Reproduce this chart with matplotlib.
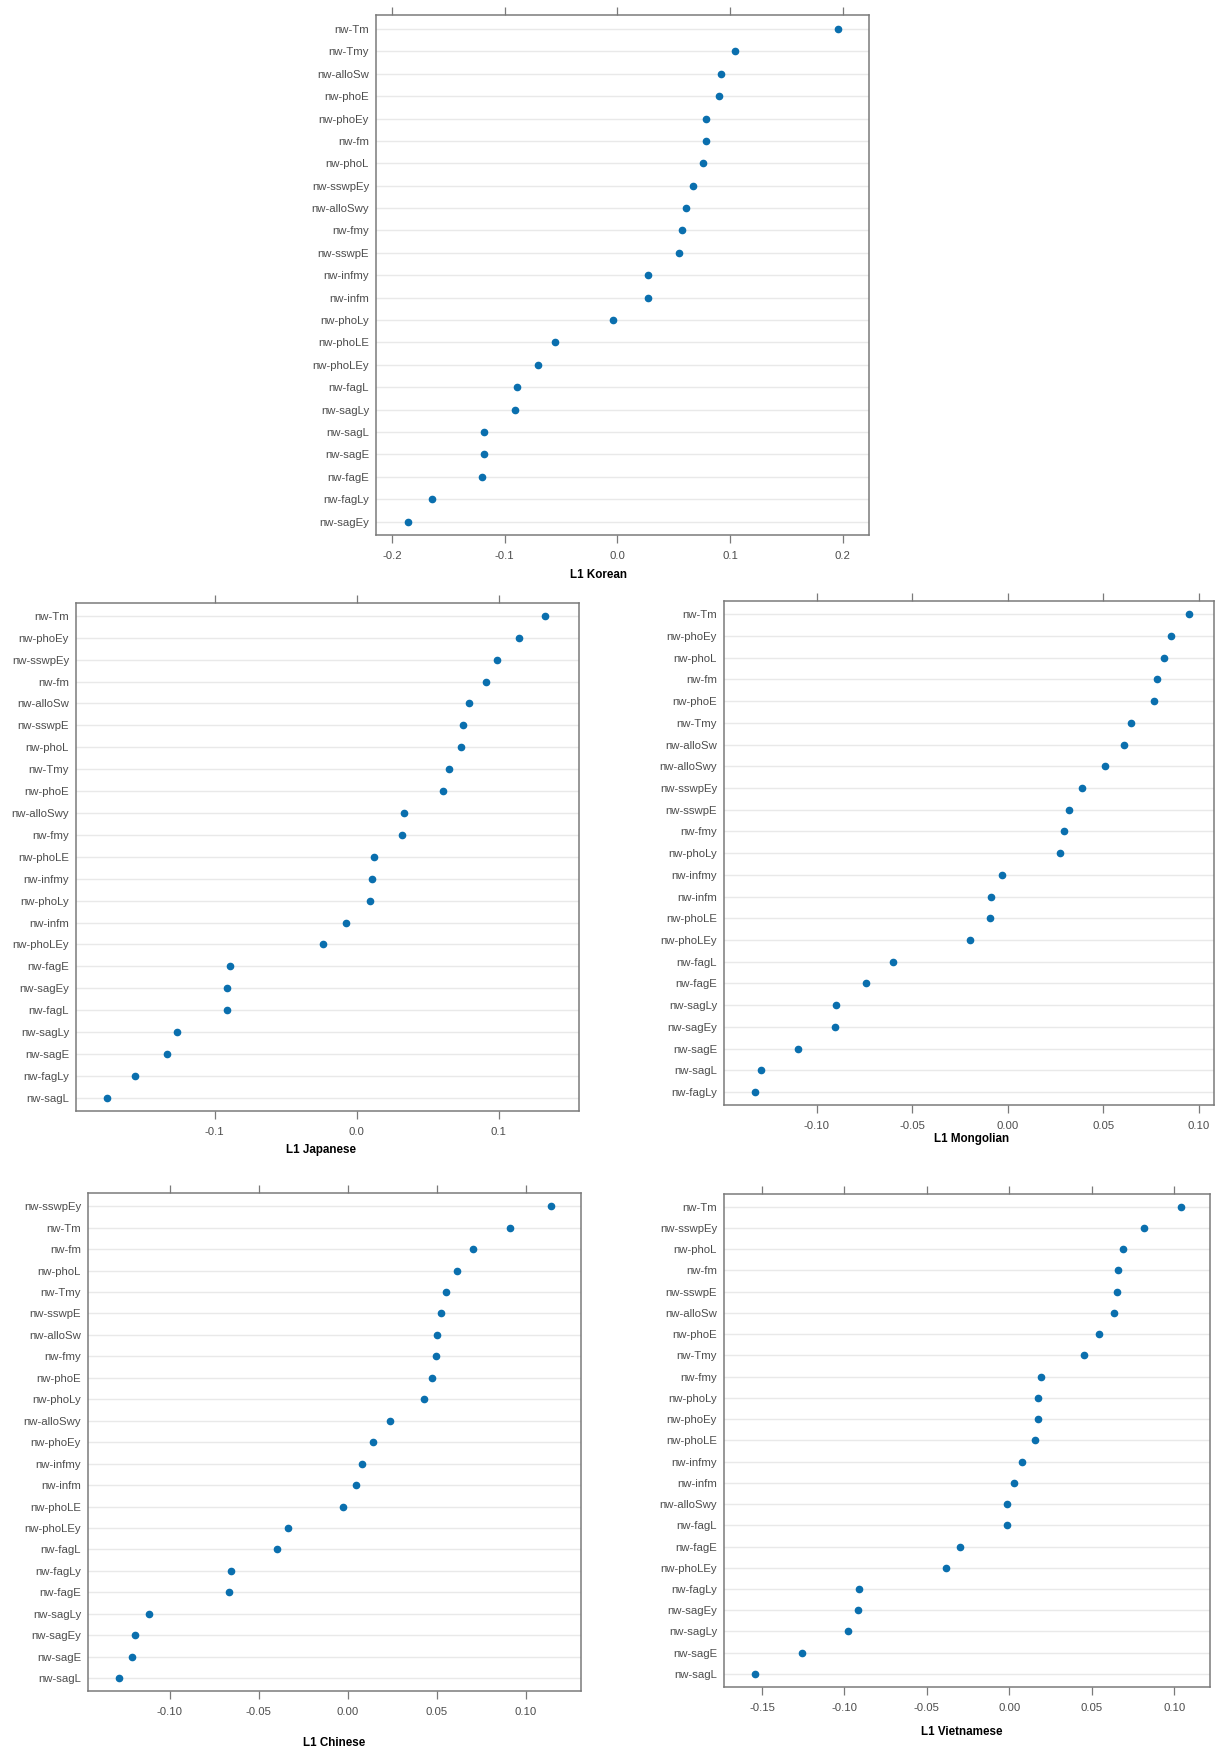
import matplotlib
matplotlib.use("Agg")
import matplotlib.pyplot as plt

plt.rcParams["font.family"] = ["Liberation Sans", "DejaVu Sans"]
plt.rcParams["axes.unicode_minus"] = False

# ---- data: one dot per predictor, ordered top to bottom ----
korean_labels = ["nw-Tm", "nw-Tmy", "nw-alloSw", "nw-phoE", "nw-phoEy", "nw-fm", "nw-phoL",
                 "nw-sswpEy", "nw-alloSwy", "nw-fmy", "nw-sswpE", "nw-infmy", "nw-infm",
                 "nw-phoLy", "nw-phoLE", "nw-phoLEy", "nw-fagL", "nw-sagLy", "nw-sagL",
                 "nw-sagE", "nw-fagE", "nw-fagLy", "nw-sagEy"]
korean_values = [0.1953, 0.1040, 0.0917, 0.0898, 0.0789, 0.0782, 0.0762, 0.0673, 0.0604,
                 0.0571, 0.0548, 0.0267, 0.0267, -0.0043, -0.0555, -0.0707, -0.0891,
                 -0.0911, -0.1182, -0.1188, -0.1202, -0.1647, -0.1855]

japanese_labels = ["nw-Tm", "nw-phoEy", "nw-sswpEy", "nw-fm", "nw-alloSw", "nw-sswpE", "nw-phoL",
                   "nw-Tmy", "nw-phoE", "nw-alloSwy", "nw-fmy", "nw-phoLE", "nw-infmy",
                   "nw-phoLy", "nw-infm", "nw-phoLEy", "nw-fagE", "nw-sagEy", "nw-fagL",
                   "nw-sagLy", "nw-sagE", "nw-fagLy", "nw-sagL"]
japanese_values = [0.1327, 0.1145, 0.0987, 0.0909, 0.0791, 0.0748, 0.0735, 0.0654, 0.0609,
                   0.0335, 0.0319, 0.0123, 0.0107, 0.0097, -0.0075, -0.0239, -0.0890,
                   -0.0912, -0.0912, -0.1266, -0.1338, -0.1558, -0.1756]

mongolian_labels = ["nw-Tm", "nw-phoEy", "nw-phoL", "nw-fm", "nw-phoE", "nw-Tmy", "nw-alloSw",
                    "nw-alloSwy", "nw-sswpEy", "nw-sswpE", "nw-fmy", "nw-phoLy", "nw-infmy",
                    "nw-infm", "nw-phoLE", "nw-phoLEy", "nw-fagL", "nw-fagE", "nw-sagLy",
                    "nw-sagEy", "nw-sagE", "nw-sagL", "nw-fagLy"]
mongolian_values = [0.0947, 0.0851, 0.0818, 0.0778, 0.0763, 0.0643, 0.0606, 0.0508, 0.0386,
                    0.0320, 0.0294, 0.0271, -0.0033, -0.0088, -0.0092, -0.0198, -0.0602,
                    -0.0741, -0.0898, -0.0902, -0.1098, -0.1290, -0.1324]

chinese_labels = ["nw-sswpEy", "nw-Tm", "nw-fm", "nw-phoL", "nw-Tmy", "nw-sswpE", "nw-alloSw",
                  "nw-fmy", "nw-phoE", "nw-phoLy", "nw-alloSwy", "nw-phoEy", "nw-infmy",
                  "nw-infm", "nw-phoLE", "nw-phoLEy", "nw-fagL", "nw-fagLy", "nw-fagE",
                  "nw-sagLy", "nw-sagEy", "nw-sagE", "nw-sagL"]
chinese_values = [0.1144, 0.0910, 0.0705, 0.0616, 0.0551, 0.0523, 0.0501, 0.0493, 0.0474,
                  0.0428, 0.0236, 0.0143, 0.0082, 0.0045, -0.0028, -0.0335, -0.0398,
                  -0.0657, -0.0668, -0.1116, -0.1196, -0.1213, -0.1286]

vietnamese_labels = ["nw-Tm", "nw-sswpEy", "nw-phoL", "nw-fm", "nw-sswpE", "nw-alloSw", "nw-phoE",
                     "nw-Tmy", "nw-fmy", "nw-phoLy", "nw-phoEy", "nw-phoLE", "nw-infmy",
                     "nw-infm", "nw-alloSwy", "nw-fagL", "nw-fagE", "nw-phoLEy", "nw-fagLy",
                     "nw-sagEy", "nw-sagLy", "nw-sagE", "nw-sagL"]
vietnamese_values = [0.1041, 0.0814, 0.0688, 0.0661, 0.0652, 0.0636, 0.0542, 0.0451, 0.0194,
                     0.0175, 0.0175, 0.0153, 0.0075, 0.0027, -0.0016, -0.0016, -0.0301,
                     -0.0383, -0.0909, -0.0918, -0.0980, -0.1258, -0.1541]

korean_ticks = [-0.2, -0.1, 0.0, 0.1, 0.2]
japanese_ticks = [-0.1, 0.0, 0.1]
step05_ticks = [-0.15, -0.10, -0.05, 0.00, 0.05, 0.10]

# ---- layout (pixel boxes: left, top, right, bottom) ----
W, H = 1230, 1751
panels = [
    dict(title="L1 Korean", labels=korean_labels, values=korean_values,
         ticks=korean_ticks, fmt="{:.1f}", xlim=(-0.2143, 0.2232),
         box=(376, 15.5, 869, 535), xlab_dy=40, xlab_x=0.452),
    dict(title="L1 Japanese", labels=japanese_labels, values=japanese_values,
         ticks=japanese_ticks, fmt="{:.1f}", xlim=(-0.1977, 0.1567),
         box=(76, 602.7, 579, 1111), xlab_dy=39, xlab_x=0.4875),
    dict(title="L1 Mongolian", labels=mongolian_labels, values=mongolian_values,
         ticks=step05_ticks[1:], fmt="{:.2f}", xlim=(-0.1485, 0.1078),
         box=(724, 601.3, 1214, 1105), xlab_dy=34, xlab_x=0.505),
    dict(title="L1 Chinese", labels=chinese_labels, values=chinese_values,
         ticks=step05_ticks[1:], fmt="{:.2f}", xlim=(-0.1460, 0.1310),
         box=(88, 1193.3, 581, 1691), xlab_dy=52, xlab_x=0.499),
    dict(title="L1 Vietnamese", labels=vietnamese_labels, values=vietnamese_values,
         ticks=step05_ticks, fmt="{:.2f}", xlim=(-0.1730, 0.1216),
         box=(724, 1194, 1210, 1686.7), xlab_dy=45, xlab_x=0.489),
]

DOT = "#0a6fae"
FRAME = "#7a7a7a"
GRID = "#e9e9e9"
TEXT = "#4d4d4d"

fig = plt.figure(figsize=(W / 100, H / 100), dpi=100)
fig.patch.set_facecolor("white")

for p in panels:
    l, t, r, b = p["box"]
    ax = fig.add_axes([l / W, 1 - b / H, (r - l) / W, (b - t) / H])
    n = len(p["labels"])
    ypos = list(range(n))[::-1]

    for y in ypos:
        ax.axhline(y, color=GRID, lw=1.0, zorder=1)
    ax.plot(p["values"], ypos, "o", color=DOT, ms=4.5, mec=DOT, zorder=3)

    ax.set_ylim(-0.6, n - 1 + 0.6)
    ax.set_xlim(*p["xlim"])
    ax.set_yticks(ypos)
    ax.set_yticklabels(p["labels"], fontsize=8.2, color=TEXT)
    ax.tick_params(axis="y", length=0, pad=5)

    ax.set_xticks(p["ticks"])
    ax.set_xticklabels([p["fmt"].format(v) for v in p["ticks"]], fontsize=8.2, color=TEXT)
    ax.tick_params(axis="x", direction="out", length=6, width=0.9, color=FRAME,
                   pad=5.5, top=True, labeltop=False)

    for s in ax.spines.values():
        s.set_color(FRAME)
        s.set_linewidth(1.1)

    h_px = b - t
    ax.set_xlabel(p["title"], fontsize=8.4, fontweight="bold", color="black")
    ax.xaxis.set_label_coords(p["xlab_x"], -p["xlab_dy"] / h_px)
    ax.xaxis.label.set_va("center")

fig.savefig("out.png", dpi=100, facecolor="white")
